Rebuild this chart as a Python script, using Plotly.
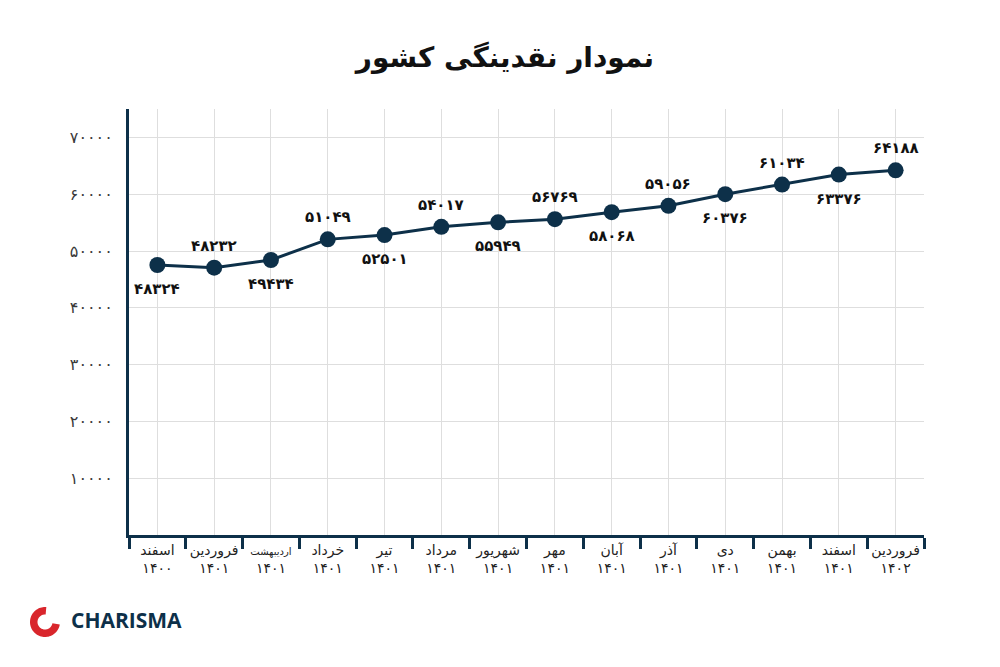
import numpy as np
import plotly.graph_objects as go

# month / year of each point (Persian calendar)
months = ["اسفند", "فروردین", "اردیبهشت", "خرداد", "تیر", "مرداد", "شهریور",
          "مهر", "آبان", "آذر", "دی", "بهمن", "اسفند", "فروردین"]
years = ["۱۴۰۰"] + ["۱۴۰۱"] * 12 + ["۱۴۰۲"]

# plotted level (as drawn) and the printed label next to each point
liquidity = [47540, 47070, 48420, 52050, 52810, 54260, 55040,
             55610, 56840, 57950, 60000, 61700, 63460, 64210]
value_labels = ["۴۸۳۲۴", "۴۸۲۳۲", "۴۹۴۳۴", "۵۱۰۴۹", "۵۲۵۰۱", "۵۴۰۱۷", "۵۵۹۴۹",
                "۵۶۷۶۹", "۵۸۰۶۸", "۵۹۰۵۶", "۶۰۳۷۶", "۶۱۰۳۴", "۶۳۳۷۶", "۶۴۱۸۸"]

y_ticks = [10000, 20000, 30000, 40000, 50000, 60000, 70000]
y_tick_labels = ["۱۰۰۰۰", "۲۰۰۰۰", "۳۰۰۰۰", "۴۰۰۰۰", "۵۰۰۰۰", "۶۰۰۰۰", "۷۰۰۰۰"]

NAVY = "#0d3049"
RED = "#d9262c"
FONT = "DejaVu Sans"

# the page body adds 8px, so the figure is 8px smaller and margins shifted
OFF = 8
W, H = 1000 - OFF, 667 - OFF
L, R, T, B = 129 - OFF, 76, 109 - OFF, 132
PX0, PX1 = 129, 924      # plot area on the page
PY0, PY1 = 109, 535


def px_x(px):
    return (px - PX0) / (PX1 - PX0)


def px_y(py):
    return (PY1 - py) / (PY1 - PY0)


xs = list(range(len(months)))
ticktext = []
for m, yr in zip(months, years):
    if len(m) > 7:
        ticktext.append(f"<span style='font-size:10px'>{m}</span><br>{yr}")
    else:
        ticktext.append(f"{m}<br>{yr}")

fig = go.Figure()
fig.add_trace(go.Scatter(
    x=xs, y=liquidity, mode="lines+markers",
    line=dict(color=NAVY, width=3),
    marker=dict(color=NAVY, size=16),
    hoverinfo="skip", showlegend=False))

# labels alternate below / above the points
for i, (v, lab) in enumerate(zip(liquidity, value_labels)):
    above = i % 2 == 1
    fig.add_annotation(x=i, y=v, text=f"<b>{lab}</b>", showarrow=False,
                       yshift=22 if above else -24,
                       font=dict(family=FONT, size=15, color="#111111"))

# logo
theta = np.radians(np.linspace(85, 350, 60))
ro, ri = 15, 7.5
outer = [(ro * np.cos(t), ro * np.sin(t)) for t in theta]
inner = [(ri * np.cos(t), ri * np.sin(t)) for t in theta[::-1]]
path = "M " + " L ".join(f"{a:.2f},{b:.2f}" for a, b in outer + inner) + " Z"
fig.add_shape(type="path", path=path, xref="paper", yref="paper",
              xsizemode="pixel", ysizemode="pixel",
              xanchor=px_x(45), yanchor=px_y(622),
              fillcolor=RED, line=dict(width=0))
fig.add_annotation(text="<b>CHARISMA</b>", xref="paper", yref="paper",
                   x=px_x(69), y=px_y(620), xanchor="left", yanchor="middle",
                   showarrow=False,
                   font=dict(family="Open Sans", size=21, color=NAVY))

fig.update_layout(
    width=W, height=H,
    margin=dict(l=L, r=R, t=T, b=B),
    paper_bgcolor="white", plot_bgcolor="white",
    font=dict(family=FONT, color="#222222"),
    title=dict(text="<b>نمودار نقدینگی کشور</b>", x=(505 - OFF) / W,
               y=1 - (57 - OFF) / H, xanchor="center", yanchor="middle",
               font=dict(family=FONT, size=28, color="#111111")),
)
fig.update_xaxes(range=[-0.5, len(months) - 0.5],
                 tickvals=xs, ticktext=ticktext,
                 tickfont=dict(size=14, color="#222222"),
                 showgrid=True, gridcolor="#dedede", gridwidth=1,
                 showline=True, linecolor=NAVY, linewidth=3,
                 ticks="", zeroline=False, fixedrange=True,
                 minor=dict(tickvals=[i - 0.5 for i in range(len(months) + 1)],
                            ticks="outside", ticklen=11, tickwidth=3,
                            tickcolor=NAVY, showgrid=False))
fig.update_yaxes(range=[0, 75000],
                 tickvals=y_ticks, ticktext=y_tick_labels,
                 tickfont=dict(size=16, color="#3a3a3a"),
                 showgrid=True, gridcolor="#dedede", gridwidth=1,
                 showline=True, linecolor=NAVY, linewidth=3,
                 ticks="", ticklabelstandoff=10,
                 zeroline=False, fixedrange=True)

fig.write_html("out.html")
